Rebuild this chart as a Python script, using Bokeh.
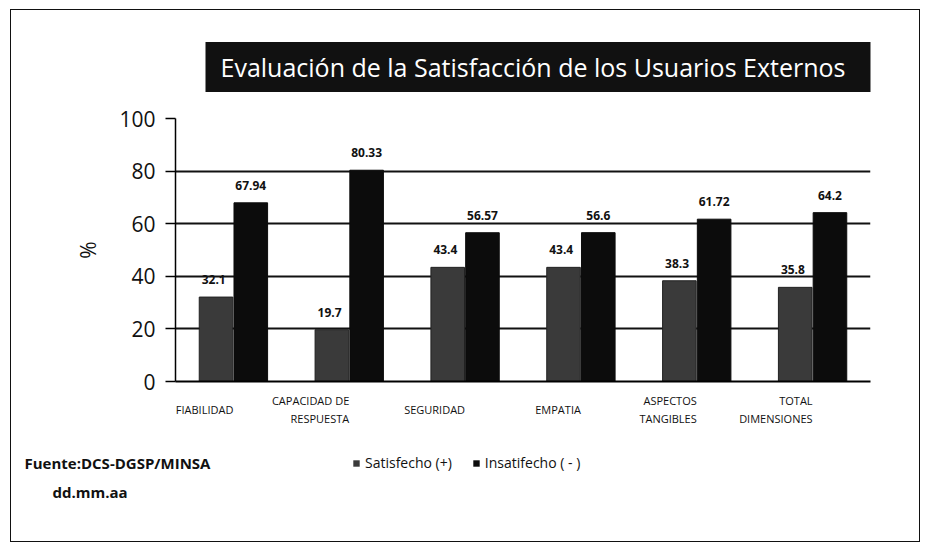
from bokeh.plotting import figure
from bokeh.layouts import column, row
from bokeh.models import (ColumnDataSource, FactorRange, Range1d, LabelSet, Label, Legend, LegendItem,
                          FixedTicker, Title, InlineStyleSheet)
from bokeh.core.properties import value
from bokeh.transform import dodge
from bokeh.embed import file_html
from bokeh.resources import INLINE

categories = ["FIABILIDAD", "CAPACIDAD DE\nRESPUESTA", "SEGURIDAD", "EMPATIA",
              "ASPECTOS\nTANGIBLES", "TOTAL\nDIMENSIONES"]
satisfecho = [32.1, 19.7, 43.4, 43.4, 38.3, 35.8]
insatisfecho = [67.94, 80.33, 56.57, 56.6, 61.72, 64.2]
sat_labels = ["32.1", "19.7", "43.4", "43.4", "38.3", "35.8"]
ins_labels = ["67.94", "80.33", "56.57", "56.6", "61.72", "64.2"]
y_ticks = [0, 20, 40, 60, 80, 100]
series_names = ["Satisfecho (+)", "Insatifecho ( - )"]
series_colors = ["#3a3a3a", "#0c0c0c"]
title_text = "Evaluación de la  Satisfacción  de los Usuarios Externos"
source_text = "Fuente:DCS-DGSP/MINSA"
date_text = "dd.mm.aa"

src = ColumnDataSource(dict(cat=categories, sat=satisfecho, ins=insatisfecho,
                            sat_l=sat_labels, ins_l=ins_labels))

FONT = "Open Sans"
W = 928

# ---------------- main chart ----------------
p = figure(x_range=FactorRange(factors=categories), y_range=Range1d(0, 100),
           width=W, height=447, output_backend="svg", toolbar_location=None,
           min_border_left=175, min_border_right=58, min_border_top=118, min_border_bottom=66,
           background_fill_color="white", border_fill_color="white")
p.outline_line_color = None

w = 0.29
p.vbar(x=dodge("cat", -0.15, range=p.x_range), top="sat", width=w, source=src,
       fill_color=series_colors[0], line_color="#222222")
p.vbar(x=dodge("cat", 0.15, range=p.x_range), top="ins", width=w, source=src,
       fill_color=series_colors[1], line_color=series_colors[1])

for field, lab, off in (("sat", "sat_l", -0.17), ("ins", "ins_l", 0.15)):
    ls = LabelSet(x=dodge("cat", off, range=p.x_range), y=field, text=lab, source=src,
                  text_align="center", text_baseline="bottom", y_offset=13,
                  text_font=value(FONT), text_font_size="12px", text_font_style="bold",
                  text_color="#111111")
    p.add_layout(ls)

p.xgrid.grid_line_color = None
p.ygrid.grid_line_color = "#111111"
p.ygrid.grid_line_width = 1.8
p.yaxis.ticker = FixedTicker(ticks=y_ticks)
p.yaxis.minor_tick_line_color = None
p.yaxis.major_tick_out = 10
p.yaxis.major_tick_in = 0
p.yaxis.major_tick_line_width = 1.5
p.yaxis.axis_line_width = 1.5
p.yaxis.major_label_text_font = FONT
p.yaxis.major_label_text_font_size = "21px"
p.yaxis.major_label_text_color = "#111111"
p.yaxis.major_label_standoff = 10
p.yaxis.axis_label = "%"
p.yaxis.axis_label_text_font = FONT
p.yaxis.axis_label_text_font_size = "21px"
p.yaxis.axis_label_text_font_style = "normal"
p.yaxis.axis_label_text_color = "#111111"
p.yaxis.axis_label_standoff = 14

p.xaxis.axis_line_width = 1.8
p.xaxis.major_tick_line_color = None
p.xaxis.minor_tick_line_color = None
p.xaxis.major_label_text_font = FONT
p.xaxis.major_label_text_font_size = "11px"
p.xaxis.major_label_text_color = "#111111"
p.xaxis.major_label_standoff = 22
p.xaxis.major_label_orientation = 0

t = Title(text=title_text, align="left", offset=30, standoff=53,
          text_font=FONT, text_font_size="25px", text_font_style="normal", text_color="white",
          background_fill_color="#111111", padding=(15, 12, 8, 8))
p.add_layout(t, "above")

# ---------------- footer: source note (left) + legend (right) ----------------
FH = 103
LW = 300


def blank(width, x0):
    fig = figure(width=width, height=FH, x_range=Range1d(x0, x0 + width), y_range=Range1d(0, FH),
                 x_axis_type=None, y_axis_type=None, output_backend="svg", toolbar_location=None,
                 min_border=0, min_border_left=0, min_border_right=0, min_border_top=0,
                 min_border_bottom=0, background_fill_color="white", border_fill_color="white")
    fig.outline_line_color = None
    fig.xgrid.visible = False
    fig.ygrid.visible = False
    return fig


fl = blank(LW, 0)
fl.add_layout(Label(x=24, y=88, text=source_text, text_align="left", text_baseline="middle",
                    text_font=FONT, text_font_size="15px", text_font_style="bold", text_color="#111111"))
fl.add_layout(Label(x=52, y=59, text=date_text, text_align="left", text_baseline="middle",
                    text_font=FONT, text_font_size="15px", text_font_style="bold", text_color="#111111"))

fr = blank(W - LW, LW)
# legend proxies (zero-size, not visible in the plot area)
k1 = fr.vbar(x=[LW], top=[0], bottom=[0], width=0, fill_color=series_colors[0], line_alpha=0)
k2 = fr.vbar(x=[LW], top=[0], bottom=[0], width=0, fill_color=series_colors[1], line_alpha=0)
legend = Legend(items=[LegendItem(label=series_names[0], renderers=[k1]),
                       LegendItem(label=series_names[1], renderers=[k2])],
                orientation="horizontal", location=(52, 78),
                border_line_color=None, background_fill_alpha=0,
                label_text_font=FONT, label_text_font_size="14px", label_text_color="#111111",
                glyph_width=8, glyph_height=8, spacing=20, padding=0, margin=0,
                label_standoff=5)
fr.add_layout(legend)

frame_css = InlineStyleSheet(css="""
:host { position: relative; }
:host::after { content: ""; position: absolute; left: 10px; top: 9px; right: 8px; bottom: 8px;
  border: 1.5px solid #111; pointer-events: none; z-index: 1000; }
""")
layout = column(p, row(fl, fr, spacing=0), spacing=0, stylesheets=[frame_css])

open("out.html", "w").write(file_html(layout, INLINE))
